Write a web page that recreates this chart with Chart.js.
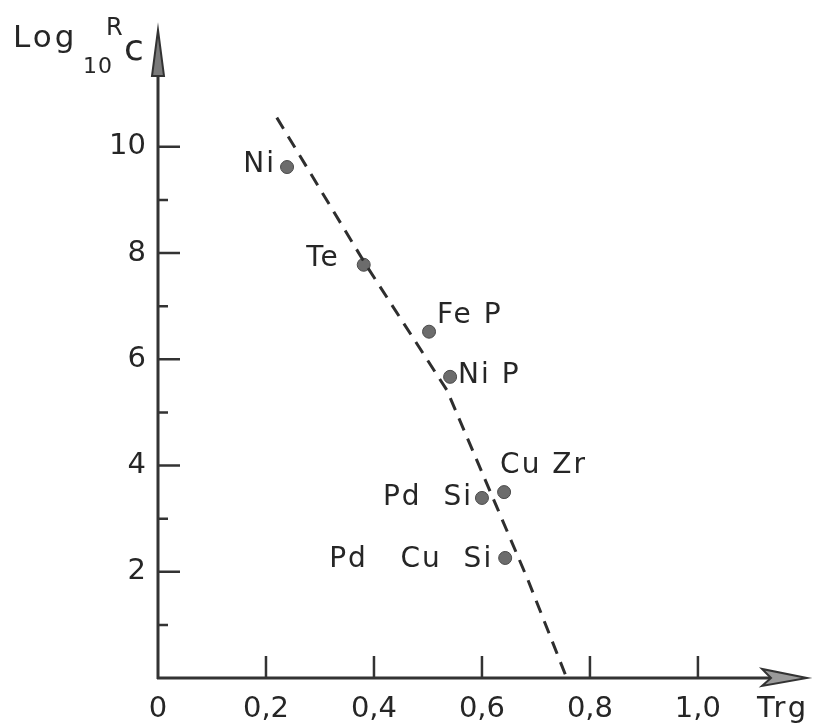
<!DOCTYPE html>
<html>
<head>
<meta charset="utf-8">
<script src="https://cdn.jsdelivr.net/npm/chart.js@4.4.0/dist/chart.umd.min.js"></script>
<style>
html, body { margin: 0; padding: 0; background: #fff; }
</style>
</head>
<body>
<canvas id="myChart" width="821" height="728"></canvas>
<script>
// alloys, reduced glass temperature and log of critical cooling rate
const alloys = ['Ni', 'Te', 'Fe P', 'Ni P', 'Cu Zr', 'Pd  Si', 'Pd   Cu  Si'];
const trg = [0.239, 0.381, 0.502, 0.541, 0.641, 0.600, 0.643];
const logRc = [9.62, 7.78, 6.52, 5.67, 3.50, 3.39, 2.26];

// hand drawn trend line through the points
const trendTrg = [0.220, 0.385, 0.535, 0.630, 0.685, 0.757];
const trendLogRc = [10.55, 7.78, 5.42, 3.16, 1.85, 0];

const xTicks = [0, 0.2, 0.4, 0.6, 0.8, 1.0];
const xTickLabels = ['0', '0,2', '0,4', '0,6', '0,8', '1,0'];
const yTicks = [2, 4, 6, 8, 10];
const yMinorTicks = [1, 3, 5, 7, 9];

const ink = '#262626';
const font = '"DejaVu Sans", sans-serif';

// where each alloy name sits next to its dot: [dx, dy, textAlign]
const labelPlace = [
    [-11, -2, 'right'],
    [-24, -6, 'right'],
    [8, -16, 'left'],
    [8, -1, 'left'],
    [-4, -26, 'left'],
    [-9, 0, 'right'],
    [-12, 2, 'right']
];

const axesPlugin = {
    id: 'handAxes',
    afterDraw(chart) {
        const c = chart.ctx;
        const xs = chart.scales.x;
        const ys = chart.scales.y;
        const x0 = xs.getPixelForValue(0);
        const y0 = ys.getPixelForValue(0);
        const {top, right} = chart.chartArea;

        c.save();
        c.strokeStyle = '#333';
        c.lineCap = 'butt';

        // axis lines
        c.lineWidth = 3;
        c.beginPath();
        c.moveTo(x0, y0 + 1);
        c.lineTo(x0, top + 30);
        c.moveTo(x0 - 1, y0);
        c.lineTo(right - 30, y0);
        c.stroke();

        // arrow heads
        c.fillStyle = '#7a7a7a';
        c.lineWidth = 2;
        c.beginPath();
        c.moveTo(x0, top);
        c.lineTo(x0 - 6, top + 46);
        c.lineTo(x0 + 6, top + 46);
        c.closePath();
        c.fill();
        c.stroke();

        c.fillStyle = '#9a9a9a';
        c.beginPath();
        c.moveTo(right, y0);
        c.lineTo(right - 45, y0 - 9);
        c.lineTo(right - 36, y0);
        c.lineTo(right - 45, y0 + 8);
        c.closePath();
        c.fill();
        c.stroke();

        // tick marks drawn inside the axes
        c.lineWidth = 2.5;
        c.beginPath();
        xTicks.slice(1).forEach(v => {
            const px = xs.getPixelForValue(v);
            c.moveTo(px, y0);
            c.lineTo(px, y0 - 22);
        });
        yTicks.forEach(v => {
            const py = ys.getPixelForValue(v);
            c.moveTo(x0, py);
            c.lineTo(x0 + 22, py);
        });
        yMinorTicks.forEach(v => {
            const py = ys.getPixelForValue(v);
            c.moveTo(x0, py);
            c.lineTo(x0 + 10, py);
        });
        c.stroke();

        // axis titles
        c.fillStyle = ink;
        c.textBaseline = 'alphabetic';
        c.textAlign = 'left';
        c.letterSpacing = '3px';
        c.font = '31px ' + font;
        c.fillText('Log', 13, 47);
        c.letterSpacing = '1px';
        c.font = '22px ' + font;
        c.fillText('10', 83, 73);
        c.font = '24px ' + font;
        c.fillText('R', 106, 35);
        c.font = '36px ' + font;
        c.fillText('c', 124, 60);
        c.letterSpacing = '3px';
        c.font = '29px ' + font;
        c.fillText('Trg', 757, 717);
        c.restore();
    },
    afterDatasetsDraw(chart) {
        const c = chart.ctx;
        const meta = chart.getDatasetMeta(1);
        c.save();
        c.fillStyle = ink;
        c.font = '28px ' + font;
        c.letterSpacing = '2px';
        c.textBaseline = 'middle';
        meta.data.forEach((pt, i) => {
            const [dx, dy, align] = labelPlace[i];
            c.textAlign = align;
            c.fillText(alloys[i], pt.x + dx, pt.y + dy);
        });
        c.restore();
    }
};

const displayChart = () => {
    const ctx = document.getElementById('myChart');
    new Chart(ctx, {
        type: 'scatter',
        data: {
            datasets: [{
                data: trendTrg.map((x, i) => ({x: x, y: trendLogRc[i]})),
                showLine: true,
                borderColor: '#2e2e2e',
                borderWidth: 3,
                borderDash: [13, 9],
                pointRadius: 0,
                fill: false
            }, {
                data: trg.map((x, i) => ({x: x, y: logRc[i]})),
                pointRadius: 6.5,
                backgroundColor: '#6c6c6c',
                borderColor: '#4a4a4a',
                borderWidth: 1
            }]
        },
        options: {
            responsive: false,
            animation: false,
            devicePixelRatio: 1,
            layout: {padding: {left: 0, top: 30, right: 14, bottom: 0}},
            plugins: {legend: {display: false}, tooltip: {enabled: false}},
            scales: {
                x: {
                    type: 'linear',
                    min: 0,
                    max: 1.202,
                    afterBuildTicks: scale => { scale.ticks = xTicks.map(v => ({value: v})); },
                    afterFit: scale => { scale.height = 50; },
                    grid: {display: false, drawTicks: false},
                    border: {display: false},
                    ticks: {
                        color: ink,
                        font: {family: font, size: 29},
                        padding: 14,
                        maxRotation: 0,
                        autoSkip: false,
                        callback: (v, i) => xTickLabels[i]
                    }
                },
                y: {
                    type: 'linear',
                    min: 0,
                    max: 12.2,
                    afterBuildTicks: scale => { scale.ticks = yTicks.map(v => ({value: v})); },
                    afterFit: scale => { scale.width = 158; },
                    grid: {display: false, drawTicks: false},
                    border: {display: false},
                    ticks: {
                        color: ink,
                        font: {family: font, size: 29},
                        padding: 12,
                        autoSkip: false
                    }
                }
            }
        },
        plugins: [axesPlugin]
    });
}

displayChart();
</script>
</body>
</html>
